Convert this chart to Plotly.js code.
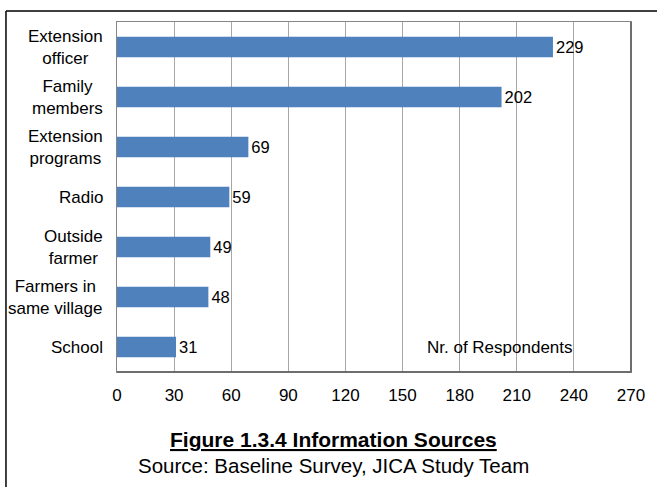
<!DOCTYPE html>
<html>
<head>
<meta charset="utf-8">
<script src="https://cdn.plot.ly/plotly-3.0.1.min.js"></script>
<style>
  html, body { margin: 0; padding: 0; background: #fff; }
  #chart { width: 657px; height: 487px; }
</style>
</head>
<body>
<div id="chart"></div>
<script>
// Information sources reported by respondents
const sources = [
  'Extension<br>officer',
  'Family<br>members',
  'Extension<br>programs',
  'Radio',
  'Outside<br>farmer',
  'Farmers in<br>same village',
  'School'
];
const respondents = [229, 202, 69, 59, 49, 48, 31];
const xTicks = [0, 30, 60, 90, 120, 150, 180, 210, 240, 270];

const FONT = 'Arial, "Liberation Sans", sans-serif';

const trace = {
  type: 'bar',
  orientation: 'h',
  y: sources,
  x: respondents,
  marker: { color: '#4F81BD', line: { width: 0 } },
  text: respondents.map(String),
  textposition: 'outside',
  textfont: { family: FONT, size: 16.5, color: '#000' },
  cliponaxis: false,
  hoverinfo: 'skip'
};

// Category labels drawn as centred multi-line annotations
const catLabels = sources.map(s => ({
  xref: 'paper', yref: 'y',
  x: 0, y: s,
  xanchor: 'right', yanchor: 'middle',
  xshift: -12,
  text: s,
  align: 'center',
  showarrow: false,
  font: { family: FONT, size: 17, color: '#000' }
}));

const layout = {
  width: 657,
  height: 487,
  margin: { l: 117, r: 26, t: 22, b: 115 },
  paper_bgcolor: '#fff',
  plot_bgcolor: '#fff',
  showlegend: false,
  bargap: 0.59,
  xaxis: {
    range: [0, 270],
    tickmode: 'array',
    tickvals: xTicks,
    ticktext: xTicks.map(String),
    showgrid: true,
    gridcolor: '#a6a6a6',
    gridwidth: 1,
    zeroline: false,
    showline: true,
    linecolor: '#868686',
    linewidth: 1,
    mirror: true,
    ticks: '',
    ticklabelstandoff: 8,
    tickfont: { family: FONT, size: 17, color: '#000' }
  },
  yaxis: {
    type: 'category',
    autorange: 'reversed',
    showticklabels: false,
    showgrid: false,
    zeroline: false,
    showline: true,
    linecolor: '#868686',
    linewidth: 1,
    mirror: true,
    ticks: ''
  },
  shapes: [
    // heavier right and bottom edges of the plot frame
    { type: 'line', xref: 'paper', yref: 'paper', x0: 1, x1: 1, y0: 0, y1: 1,
      line: { color: '#6e6e6e', width: 2 } },
    { type: 'line', xref: 'paper', yref: 'paper', x0: 0, x1: 1, y0: 0, y1: 0,
      line: { color: '#6e6e6e', width: 2 } },
    // outer figure frame (left and top)
    { type: 'line', xref: 'paper', yref: 'paper', x0: -0.216, x1: -0.216, y0: 1.0314, y1: -0.5,
      line: { color: '#000', width: 1.5 } },
    { type: 'line', xref: 'paper', yref: 'paper', x0: -0.216, x1: 1.2, y0: 1.0314, y1: 1.0314,
      line: { color: '#000', width: 1.5 } }
  ],
  annotations: catLabels.concat([
    {
      xref: 'x', yref: 'y', x: 201, y: 'School',
      xanchor: 'center', yanchor: 'middle',
      text: 'Nr. of Respondents', showarrow: false,
      font: { family: FONT, size: 17, color: '#000' }
    },
    {
      xref: 'paper', yref: 'paper', x: 0.422, y: -0.194,
      xanchor: 'center', yanchor: 'middle',
      text: '<u><b>Figure 1.3.4 Information Sources</b></u>', showarrow: false,
      font: { family: FONT, size: 21, color: '#000' }
    },
    {
      xref: 'paper', yref: 'paper', x: 0.422, y: -0.266,
      xanchor: 'center', yanchor: 'middle',
      text: 'Source: Baseline Survey, JICA Study Team', showarrow: false,
      font: { family: FONT, size: 20.5, color: '#000' }
    }
  ])
};

Plotly.newPlot('chart', [trace], layout, { staticPlot: true, displayModeBar: false });
</script>
</body>
</html>
